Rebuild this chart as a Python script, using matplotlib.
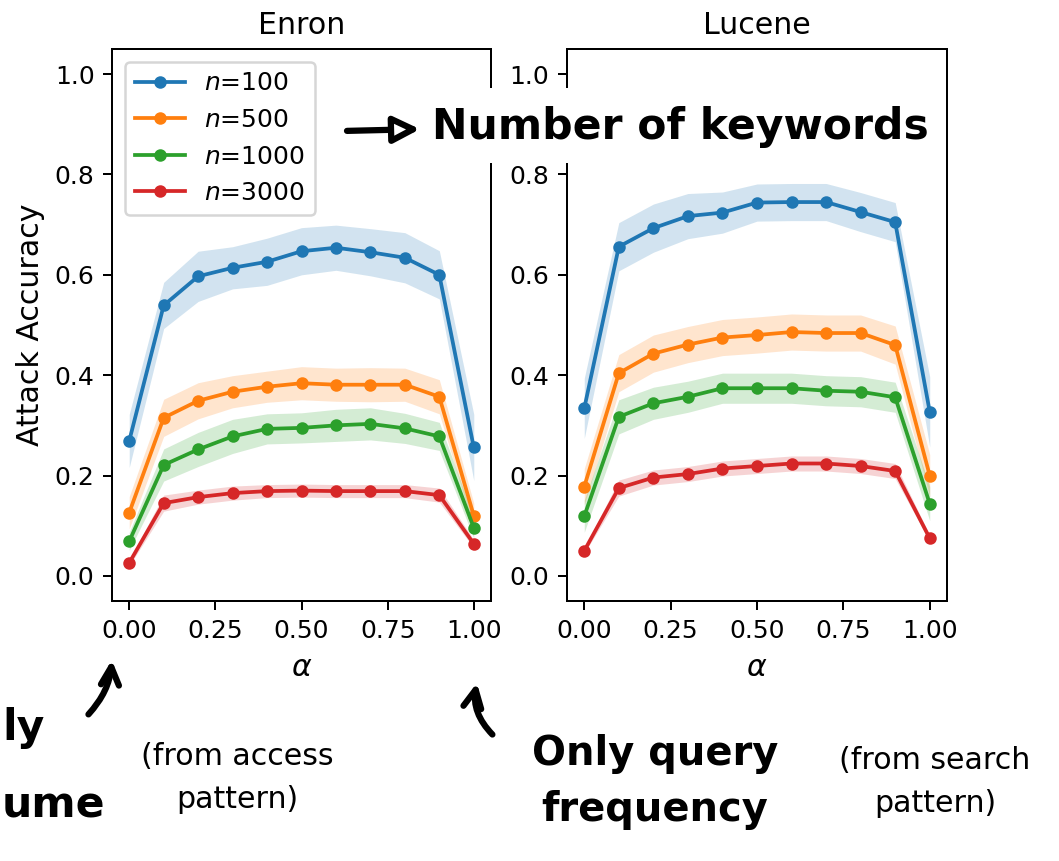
import numpy as np
import matplotlib.pyplot as plt
from matplotlib.patches import FancyArrowPatch, Rectangle

# Valores de alpha (eje x) y etiquetas de las series
alphas = [0.0, 0.1, 0.2, 0.3, 0.4, 0.5, 0.6, 0.7, 0.8, 0.9, 1.0]
etiquetas = ['$n$=100', '$n$=500', '$n$=1000', '$n$=3000']
colores = ['tab:blue', 'tab:orange', 'tab:green', 'tab:red']

# Enron: medias
enron_100 = [0.269, 0.539, 0.597, 0.614, 0.626, 0.647, 0.654, 0.645, 0.634, 0.600, 0.256]
enron_500 = [0.126, 0.315, 0.349, 0.367, 0.377, 0.384, 0.381, 0.381, 0.381, 0.357, 0.120]
enron_1000 = [0.069, 0.221, 0.252, 0.278, 0.293, 0.295, 0.300, 0.303, 0.294, 0.278, 0.096]
enron_3000 = [0.026, 0.145, 0.157, 0.165, 0.169, 0.170, 0.169, 0.169, 0.169, 0.161, 0.064]
# Enron: desviaciones (ancho de la banda)
enron_100_std = [0.053, 0.046, 0.050, 0.042, 0.047, 0.047, 0.045, 0.047, 0.050, 0.048, 0.066]
enron_500_std = [0.032, 0.037, 0.036, 0.032, 0.031, 0.033, 0.033, 0.034, 0.033, 0.034, 0.025]
enron_1000_std = [0.018, 0.032, 0.034, 0.034, 0.030, 0.030, 0.032, 0.032, 0.030, 0.028, 0.021]
enron_3000_std = [0.006, 0.016, 0.014, 0.014, 0.013, 0.013, 0.013, 0.013, 0.013, 0.014, 0.008]

# Lucene: medias
lucene_100 = [0.334, 0.656, 0.693, 0.717, 0.724, 0.744, 0.745, 0.745, 0.725, 0.705, 0.327]
lucene_500 = [0.178, 0.404, 0.443, 0.461, 0.475, 0.480, 0.486, 0.484, 0.484, 0.460, 0.200]
lucene_1000 = [0.119, 0.317, 0.344, 0.357, 0.374, 0.374, 0.374, 0.369, 0.367, 0.356, 0.144]
lucene_3000 = [0.050, 0.175, 0.196, 0.203, 0.214, 0.219, 0.224, 0.224, 0.219, 0.209, 0.075]
# Lucene: desviaciones
lucene_100_std = [0.060, 0.048, 0.048, 0.045, 0.041, 0.037, 0.037, 0.037, 0.039, 0.039, 0.070]
lucene_500_std = [0.036, 0.037, 0.037, 0.036, 0.036, 0.036, 0.036, 0.036, 0.036, 0.038, 0.042]
lucene_1000_std = [0.032, 0.034, 0.032, 0.031, 0.030, 0.030, 0.030, 0.030, 0.030, 0.030, 0.034]
lucene_3000_std = [0.005, 0.016, 0.015, 0.015, 0.015, 0.015, 0.015, 0.015, 0.015, 0.015, 0.006]

W, H = 1059, 861


def fx(x):
    return x / W


def fy(y):
    return 1 - y / H


def dibujar(ax, medias, desv, titulo):
    for m, s, c, lab in zip(medias, desv, colores, etiquetas):
        m = np.array(m)
        s = np.array(s)
        ax.fill_between(alphas, m - s, m + s, color=c, alpha=0.2, linewidth=0)
        ax.plot(alphas, m, '-o', color=c, markersize=4, label=lab)
    ax.set_title(titulo)
    ax.set_xlabel(r'$\alpha$', fontsize=12)
    ax.set_ylim(-0.05, 1.05)
    ax.set_xticks([0, 0.25, 0.5, 0.75, 1.0])


fig = plt.figure(figsize=(W / 180, H / 180), dpi=180)
ax1 = fig.add_axes([fx(112), fy(601), 379 / W, 552 / H])
ax2 = fig.add_axes([fx(567), fy(601), 380 / W, 552 / H])

dibujar(ax1, [enron_100, enron_500, enron_1000, enron_3000],
        [enron_100_std, enron_500_std, enron_1000_std, enron_3000_std], 'Enron')
dibujar(ax2, [lucene_100, lucene_500, lucene_1000, lucene_3000],
        [lucene_100_std, lucene_500_std, lucene_1000_std, lucene_3000_std], 'Lucene')
ax1.set_ylabel('Attack Accuracy', fontsize=12)
ax1.legend(loc='upper left')

# Anotaciones a mano (como texto)
fig.add_artist(Rectangle((fx(338), fy(163)), (923 - 338) / W, (163 - 88) / H,
                         transform=fig.transFigure, facecolor='white',
                         edgecolor='none', zorder=10))
fig.add_artist(FancyArrowPatch((fx(342), fy(131)), (fx(425), fy(129)),
                               transform=fig.transFigure, arrowstyle='-|>',
                               mutation_scale=22, lw=2.5, edgecolor='black',
                               facecolor='white', zorder=11))
fig.text(fx(432), fy(127), 'Number of keywords', fontsize=17, fontweight='bold',
         va='center', ha='left', zorder=11)

# fragmentos visibles del texto recortado a la izquierda
fig.text(fx(2), fy(728), 'ly', fontsize=17, fontweight='bold', ha='left', va='center')
fig.text(fx(2), fy(805), 'ume', fontsize=17, fontweight='bold', ha='left', va='center')
fig.text(fx(237), fy(778), '(from access\npattern)', fontsize=12, ha='center',
         va='center', linespacing=1.6)
fig.text(fx(655), fy(782), 'Only query\nfrequency', fontsize=16, fontweight='bold',
         ha='center', va='center', linespacing=1.5)
fig.text(fx(935), fy(782), '(from search\npattern)', fontsize=12, ha='center',
         va='center', linespacing=1.6)

fig.add_artist(FancyArrowPatch((fx(85), fy(718)), (fx(112), fy(655)),
                               transform=fig.transFigure, arrowstyle='->',
                               connectionstyle='arc3,rad=0.2',
                               mutation_scale=18, lw=2.5, color='black'))
fig.add_artist(FancyArrowPatch((fx(496), fy(738)), (fx(478), fy(678)),
                               transform=fig.transFigure, arrowstyle='->',
                               connectionstyle='arc3,rad=-0.3',
                               mutation_scale=18, lw=2.5, color='black'))

fig.savefig('out.png', dpi=180)
